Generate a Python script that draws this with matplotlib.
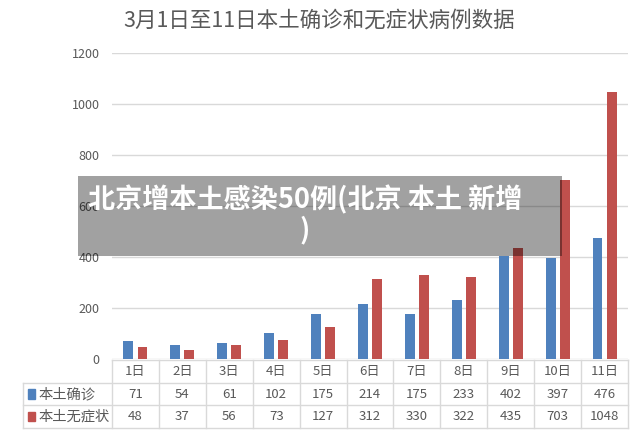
import numpy as np
import matplotlib
matplotlib.use("Agg")
from matplotlib import pyplot as plt
from matplotlib.patches import Rectangle

plt.rcParams['font.family'] = ['Noto Sans CJK SC', 'DejaVu Sans']

days = ['1日', '2日', '3日', '4日', '5日', '6日', '7日', '8日', '9日', '10日', '11日']
confirmed = [71, 54, 61, 102, 175, 214, 175, 233, 402, 397, 476]
asymptomatic = [48, 37, 56, 73, 127, 312, 330, 322, 435, 703, 1048]
series_names = ['本土确诊', '本土无症状']
title = '3月1日至11日本土确诊和无症状病例数据'
banner = '北京增本土感染50例(北京 本土 新增\n)'

blue = '#4F81BD'
red = '#C0504D'
grey_txt = '#595959'
line_c = '#D9D9D9'

W, H = 640, 433
fig = plt.figure(figsize=(W / 100, H / 100), dpi=100)

def px(x0, y0, x1, y1):
    # pixel box (top-left origin) -> figure fraction rect
    return [x0 / W, 1 - y1 / H, (x1 - x0) / W, (y1 - y0) / H]

ax = fig.add_axes(px(112, 53, 628, 359))
x = np.arange(len(days))
ax.bar(x - 0.15, confirmed, width=0.21, color=blue, zorder=3)
ax.bar(x + 0.15, asymptomatic, width=0.21, color=red, zorder=3)
ax.set_xlim(-0.5, len(days) - 0.5)
ax.set_ylim(0, 1200)
ax.set_yticks(range(0, 1201, 200))
ax.tick_params(axis='y', length=0, labelsize=9, labelcolor=grey_txt, pad=9)
ax.set_xticks([])
ax.grid(axis='y', color=line_c, linewidth=1, zorder=0)
for s in ax.spines.values():
    s.set_visible(False)

fig.text(319 / W, 1 - 21 / H, title, ha='center', va='center',
         fontsize=15.5, color=grey_txt)

# data table below the plot
tab = fig.add_axes(px(23, 360, 628, 428))
left = -0.5 - (112 - 23) / ((628 - 112) / len(days))
tab.set_xlim(left, len(days) - 0.5)
tab.set_ylim(3, 0)
tab.axis('off')
lw = 1
tab.plot([-0.5, len(days) - 0.5], [0, 0], color=line_c, lw=lw, clip_on=False)
for r in (1, 2, 3):
    tab.plot([left, len(days) - 0.5], [r, r], color=line_c, lw=lw, clip_on=False)
tab.plot([left, left], [1, 3], color=line_c, lw=lw, clip_on=False)
for i in range(len(days) + 1):
    tab.plot([i - 0.5, i - 0.5], [0, 3], color=line_c, lw=lw, clip_on=False)
for i, d in enumerate(days):
    tab.text(i, 0.5, d, ha='center', va='center', fontsize=9.5, color=grey_txt)
    tab.text(i, 1.5, str(confirmed[i]), ha='center', va='center', fontsize=9.5, color=grey_txt)
    tab.text(i, 2.5, str(asymptomatic[i]), ha='center', va='center', fontsize=9.5, color=grey_txt)
for r, (name, c) in enumerate(zip(series_names, [blue, red])):
    tab.add_patch(Rectangle((left + 0.1, 1.3 + r), 0.16, 0.4, color=c, clip_on=False))
    tab.text(left + 0.33, 1.5 + r, name, ha='left', va='center', fontsize=10.3, color=grey_txt)

# translucent banner overlay
ov = fig.add_axes(px(78, 176, 562, 256))
ov.set_xlim(0, 1)
ov.set_ylim(0, 1)
ov.axis('off')
ov.add_patch(Rectangle((0, 0), 1, 1, color='black', alpha=0.37, lw=0))
ov.text(0.469, 0.51, banner, ha='center', va='center', fontsize=19.5,
        fontweight='bold', color='white', linespacing=1.05)

plt.savefig('out.png', dpi=100)
